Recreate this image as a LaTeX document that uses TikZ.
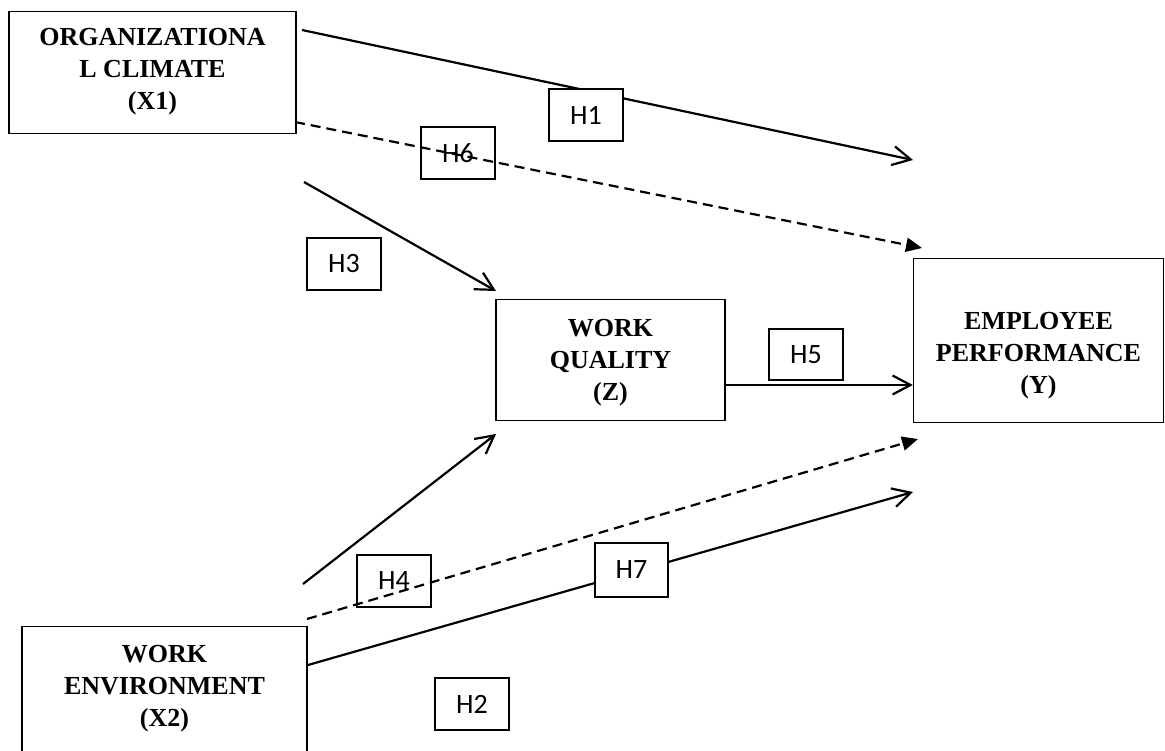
\documentclass[tikz,border=0pt]{standalone}
\usepackage{fontspec}
\setmainfont{Liberation Serif}
\newfontfamily\hypfont{Carlito}
\usetikzlibrary{arrows.meta}

\tikzset{
  varbox/.style={draw, line width=1.2pt, inner sep=0pt, align=center, anchor=north,
    font=\fontsize{26pt}{32pt}\selectfont\bfseries},
  hypbox/.style={draw, fill=white, line width=1.2pt, inner sep=0pt,
    minimum width=74pt, minimum height=52pt, font=\fontsize{28pt}{32pt}\selectfont\hypfont},
  direct/.style={line width=2.2pt, -{Straight Barb[length=18pt,width=19pt]}},
  indirect/.style={line width=2.2pt, dash pattern=on 10pt off 6pt, -{Triangle[length=16pt,width=14pt]}}
}

\begin{document}
\begin{tikzpicture}[x=1pt,y=-1pt]
  \clip (0,0) rectangle (1165,751);
  % variables
  \node[varbox, minimum width=287pt, text height=98pt, text depth=24pt] (x1) at (152.5,11) {ORGANIZATIONA\\L CLIMATE\\(X1)};
  \node[varbox, minimum width=229pt, text height=101pt, text depth=20pt] (z) at (610.5,299) {WORK\\QUALITY\\(Z)};
  \node[varbox, minimum width=250pt, text height=135pt, text depth=29pt] (y) at (1038.5,258) {EMPLOYEE\\PERFORMANCE\\(Y)};
  \node[varbox, minimum width=285pt, text height=100pt, text depth=54pt] (x2) at (164.5,626) {WORK\\ENVIRONMENT\\(X2)};

  % end points of the paths
  \coordinate (x1r) at (302,30);  \coordinate (yt1) at (913,160);
  \coordinate (x1d) at (295,122); \coordinate (yt2) at (922,248);
  \coordinate (x1z) at (304,182); \coordinate (zt) at (496,291);
  \coordinate (zy) at (0,385);
  \coordinate (x2z) at (303,584); \coordinate (zb) at (496,434);
  \coordinate (x2d) at (307,619); \coordinate (yb1) at (918,439);
  \coordinate (x2r) at (308,665); \coordinate (yb2) at (913,492);

  % direct paths
  \draw[direct] (x1r) -- (yt1);
  \draw[direct] (x1z) -- (zt);
  \draw[direct] (z.east |- zy) -- (y.west |- zy);
  \draw[direct] (x2z) -- (zb);
  \draw[direct] (x2r) -- (yb2);

  % hypotheses
  \node[hypbox] (h1) at (586,115) {H1};
  \node[hypbox] (h6) at (458,153) {H6};
  \node[hypbox] (h3) at (344,264) {H3};
  \node[hypbox, minimum height=51pt] (h5) at (806,354.5) {H5};
  \node[hypbox] (h4) at (394,581) {H4};
  \node[hypbox, minimum width=73pt, minimum height=54pt] (h7) at (631.5,570) {H7};
  \node[hypbox] (h2) at (472,704) {H2};

  % indirect paths
  \draw[indirect] (x1d) -- (yt2);
  \draw[indirect] (x2d) -- (yb1);
\end{tikzpicture}
\end{document}
